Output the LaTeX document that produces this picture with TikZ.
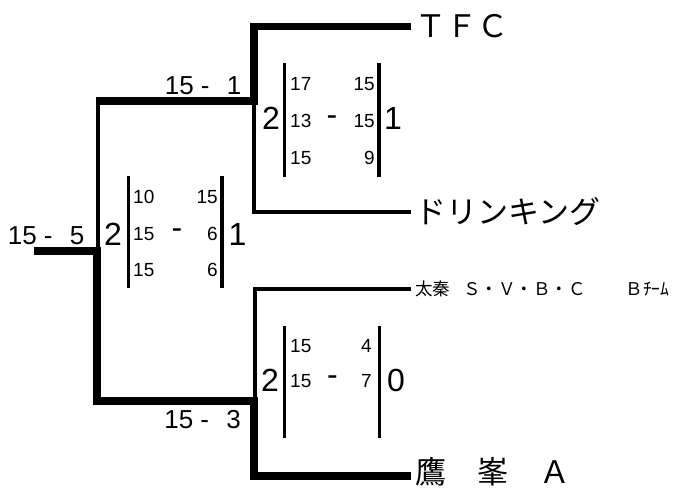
\documentclass[tikz,border=0pt]{standalone}
\usepackage{fontspec}
\setmainfont{Liberation Sans}
\newfontfamily\jp{Noto Sans CJK JP}
\begin{document}
\begin{tikzpicture}[x=1pt,y=-1pt,
  thickline/.style={line width=7.5pt, line join=miter, line cap=butt},
  thinline/.style={line width=3.8pt, line join=miter, line cap=butt},
  barline/.style={line width=3.2pt},
  team/.style={anchor=west, inner xsep=4pt, inner ysep=0pt, font=\jp\fontsize{31}{36}\selectfont},
  teamsmall/.style={team, font=\jp\fontsize{17.5}{21}\selectfont},
  big/.style={inner sep=0pt, font=\fontsize{32}{34}\selectfont},
  small/.style={inner sep=0pt, font=\fontsize{19}{21}\selectfont},
  score/.style={inner sep=0pt, font=\fontsize{26}{28}\selectfont, anchor=east}]
\useasboundingbox (0,0) rectangle (686,488);
% teams
\node[team] (tfc) at (411,26.5) {ＴＦＣ};
\node[team] (drink) at (411,212) {ドリンキング};
\node[teamsmall] (uzu) at (411,289) {太秦\hspace{13pt}Ｓ・Ｖ・Ｂ・Ｃ\hspace{40pt}Ｂﾁｰﾑ};
\node[team] (taka) at (411,472) {鷹　峯　Ａ};
% bracket coordinates
\coordinate (c1) at (254,26.5);
\coordinate (j1) at (254,101);
\coordinate (d1) at (254,212);
\coordinate (l1) at (98,101);
\coordinate (l1e) at (96,101);
\coordinate (j0) at (98,251);
\coordinate (j0b) at (97,251);
\coordinate (entry) at (34,251);
\coordinate (l2) at (97,401);
\coordinate (j2) at (254,401);
\coordinate (j2t) at (255,401);
\coordinate (u2) at (255,289);
\coordinate (c2) at (254,476);
% connectors
\draw[thickline] (tfc.west) -- (c1) -- (j1) -- (l1e);
\draw[thinline] (j1) -- (d1) -- (drink.west);
\draw[thinline] (l1) -- (j0);
\draw[thickline] (entry) -- (j0b) -- (l2) -- (j2) -- (c2) -- (c2 -| taka.west);
\draw[thinline] (j2t) -- (u2) -- (uzu.west);
% round scores
\node[score] (r1) at (241.5,86) {15 - \hspace{10pt}1};
\node[score] (r0) at (84.5,236) {15 - \hspace{10pt}5};
\node[score] (r2) at (241,420) {15 - \hspace{10pt}3};
% top match
\node[big] (a2) at (271,118.5) {2};
\draw[barline] (284.5,63) -- (284.5,177);
\draw[barline] (379,63) -- (379,177);
\node[small,anchor=west] at (290,84) {17};
\node[small,anchor=east] at (375,84) {15};
\node[small,anchor=west] at (290,121) {13};
\node[big] at (332,121) {-};
\node[small,anchor=east] at (375,121) {15};
\node[small,anchor=west] at (290,158) {15};
\node[small,anchor=east] at (375,158) {9};
\node[big] (a1) at (393,118.5) {1};
% middle match
\node[big] (b2) at (113,234.5) {2};
\draw[barline] (128.5,176) -- (128.5,288);
\draw[barline] (222,176) -- (222,288);
\node[small,anchor=west] at (133,197) {10};
\node[small,anchor=east] at (218,197) {15};
\node[small,anchor=west] at (133,234) {15};
\node[big] at (177,234) {-};
\node[small,anchor=east] at (218,234) {6};
\node[small,anchor=west] at (133,270) {15};
\node[small,anchor=east] at (218,270) {6};
\node[big] (b1) at (237.5,234.5) {1};
% bottom match
\node[big] (e2) at (270,380) {2};
\draw[barline] (284.5,326) -- (284.5,438);
\draw[barline] (379.5,326) -- (379.5,438);
\node[small,anchor=west] at (290,346) {15};
\node[small,anchor=east] at (372,346) {4};
\node[small,anchor=west] at (290,381) {15};
\node[big] at (332.5,381) {-};
\node[small,anchor=east] at (372,381) {7};
\node[big] (e0) at (396,380) {0};
\end{tikzpicture}
\end{document}
